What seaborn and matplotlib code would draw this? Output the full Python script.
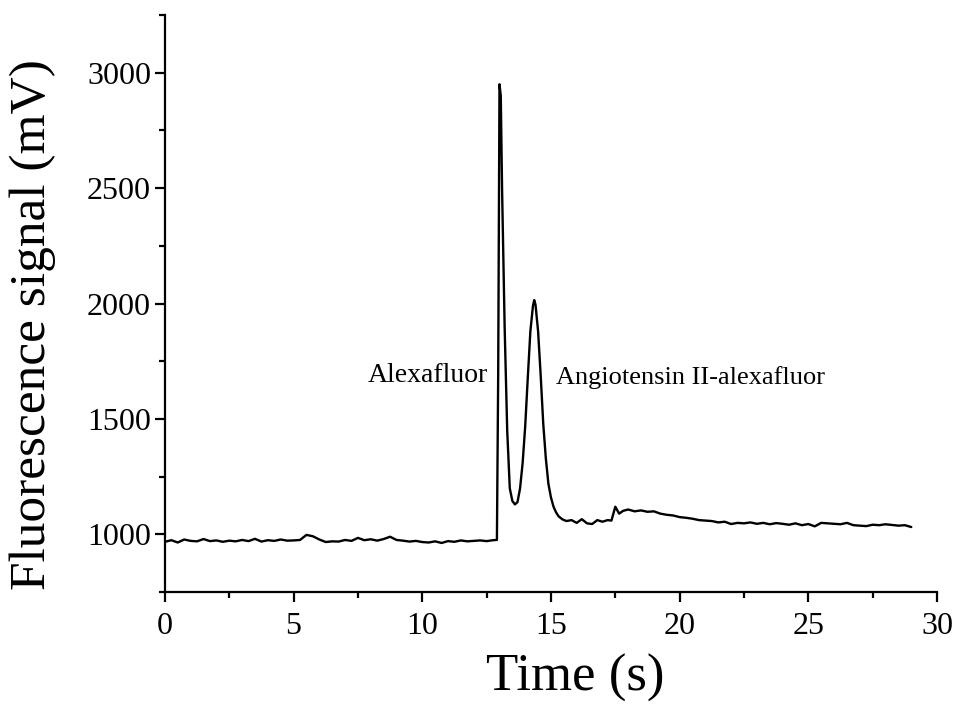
import matplotlib
matplotlib.use("Agg")
import matplotlib.pyplot as plt
from matplotlib.ticker import MultipleLocator, FixedLocator
import seaborn as sns
import pandas as pd

# ---- data ----
time_s = [0.00, 0.25, 0.50, 0.75, 1.00, 1.25, 1.50, 1.75, 2.00, 2.25, 2.50, 2.75,
          3.00, 3.25, 3.50, 3.75, 4.00, 4.25, 4.50, 4.75, 5.00, 5.25, 5.50, 5.75,
          6.00, 6.25, 6.50, 6.75, 7.00, 7.25, 7.50, 7.75, 8.00, 8.25, 8.50, 8.75,
          9.00, 9.25, 9.50, 9.75, 10.00, 10.25, 10.50, 10.75, 11.00, 11.25, 11.50,
          11.75, 12.00, 12.25, 12.50, 12.75, 12.90,
          12.95, 13.00, 13.05, 13.10, 13.20, 13.30, 13.40, 13.50, 13.60, 13.70,
          13.80, 13.90, 14.00, 14.10, 14.20, 14.30, 14.35, 14.40, 14.50, 14.60,
          14.70, 14.80, 14.90, 15.00, 15.10, 15.20, 15.30, 15.45, 15.60, 15.80,
          16.00, 16.20, 16.40, 16.60, 16.80, 17.00, 17.20, 17.35, 17.50, 17.65,
          17.80, 18.00, 18.25, 18.50, 18.75, 19.00, 19.25, 19.50, 19.75, 20.00,
          20.25, 20.50, 20.75, 21.00, 21.25, 21.50, 21.75, 22.00, 22.25, 22.50,
          22.75, 23.00, 23.25, 23.50, 23.75, 24.00, 24.25, 24.50, 24.75, 25.00,
          25.25, 25.50, 25.75, 26.00, 26.25, 26.50, 26.75, 27.00, 27.25, 27.50,
          27.75, 28.00, 28.25, 28.50, 28.75, 29.00]
signal_mv = [968, 975, 965, 978, 972, 970, 980, 971, 974, 968, 973, 970,
             976, 971, 981, 969, 975, 972, 978, 973, 974, 976, 998, 992,
             978, 967, 970, 969, 976, 972, 985, 975, 979, 973, 980, 990,
             976, 973, 969, 972, 967, 965, 970, 963, 971, 968, 974,
             970, 972, 974, 971, 975, 976,
             1700, 2950, 2900, 2500, 1900, 1450, 1200, 1145, 1130, 1140,
             1200, 1310, 1470, 1680, 1880, 1990, 2015, 1995, 1880, 1690,
             1480, 1330, 1220, 1160, 1120, 1095, 1078, 1065, 1058, 1062,
             1050, 1066, 1048, 1045, 1062, 1055, 1062, 1060, 1120, 1090,
             1102, 1108, 1100, 1104, 1098, 1100, 1090, 1085, 1082, 1075,
             1072, 1068, 1062, 1060, 1058, 1052, 1055, 1045, 1050, 1048,
             1052, 1046, 1050, 1044, 1049, 1046, 1042, 1048, 1040, 1045,
             1035, 1050, 1048, 1046, 1044, 1050, 1040, 1038, 1036, 1042,
             1040, 1044, 1041, 1038, 1040, 1032]

x_major = [0, 5, 10, 15, 20, 25, 30]
y_major = [1000, 1500, 2000, 2500, 3000]
peak_labels = ["Alexafluor", "Angiotensin II-alexafluor"]
x_label = "Time (s)"
y_label = "Fluorescence signal (mV)"

df = pd.DataFrame({"t": time_s, "v": signal_mv})

sns.set_style("ticks")
plt.rcParams["font.family"] = ["Liberation Serif", "DejaVu Serif"]
plt.rcParams["axes.linewidth"] = 1.6
plt.rcParams["text.color"] = "black"
plt.rcParams["axes.labelcolor"] = "black"
plt.rcParams["xtick.color"] = "black"
plt.rcParams["ytick.color"] = "black"

fig = plt.figure(figsize=(9.70, 7.16), dpi=100)
ax = fig.add_axes([0.170, 0.173, 0.796, 0.806])

sns.lineplot(data=df, x="t", y="v", ax=ax, color="black", linewidth=1.7,
             estimator=None, sort=False)

ax.set_xlim(0, 30)
ax.set_ylim(750, 3250)
ax.xaxis.set_major_locator(FixedLocator(x_major))
ax.xaxis.set_minor_locator(MultipleLocator(2.5))
ax.yaxis.set_major_locator(FixedLocator(y_major))
ax.yaxis.set_minor_locator(MultipleLocator(250))
ax.tick_params(axis="both", which="major", direction="out", length=7,
               width=1.6, labelsize=23, pad=3)
ax.tick_params(axis="x", which="major", pad=7)
ax.tick_params(axis="both", which="minor", direction="out", length=4,
               width=1.6)
for s in ["top", "right"]:
    ax.spines[s].set_visible(False)
for s in ["left", "bottom"]:
    ax.spines[s].set_color("black")

ax.set_xlabel(x_label, fontsize=38)
ax.set_ylabel(y_label, fontsize=37)
ax.xaxis.set_label_coords(0.531, -0.107)
ax.yaxis.set_label_coords(-0.141, 0.463)

ax.text(12.55, 1690, peak_labels[0], fontsize=20, ha="right", va="center")
ax.text(15.2, 1680, peak_labels[1], fontsize=19, ha="left", va="center")

fig.savefig("out.png", dpi=100)
